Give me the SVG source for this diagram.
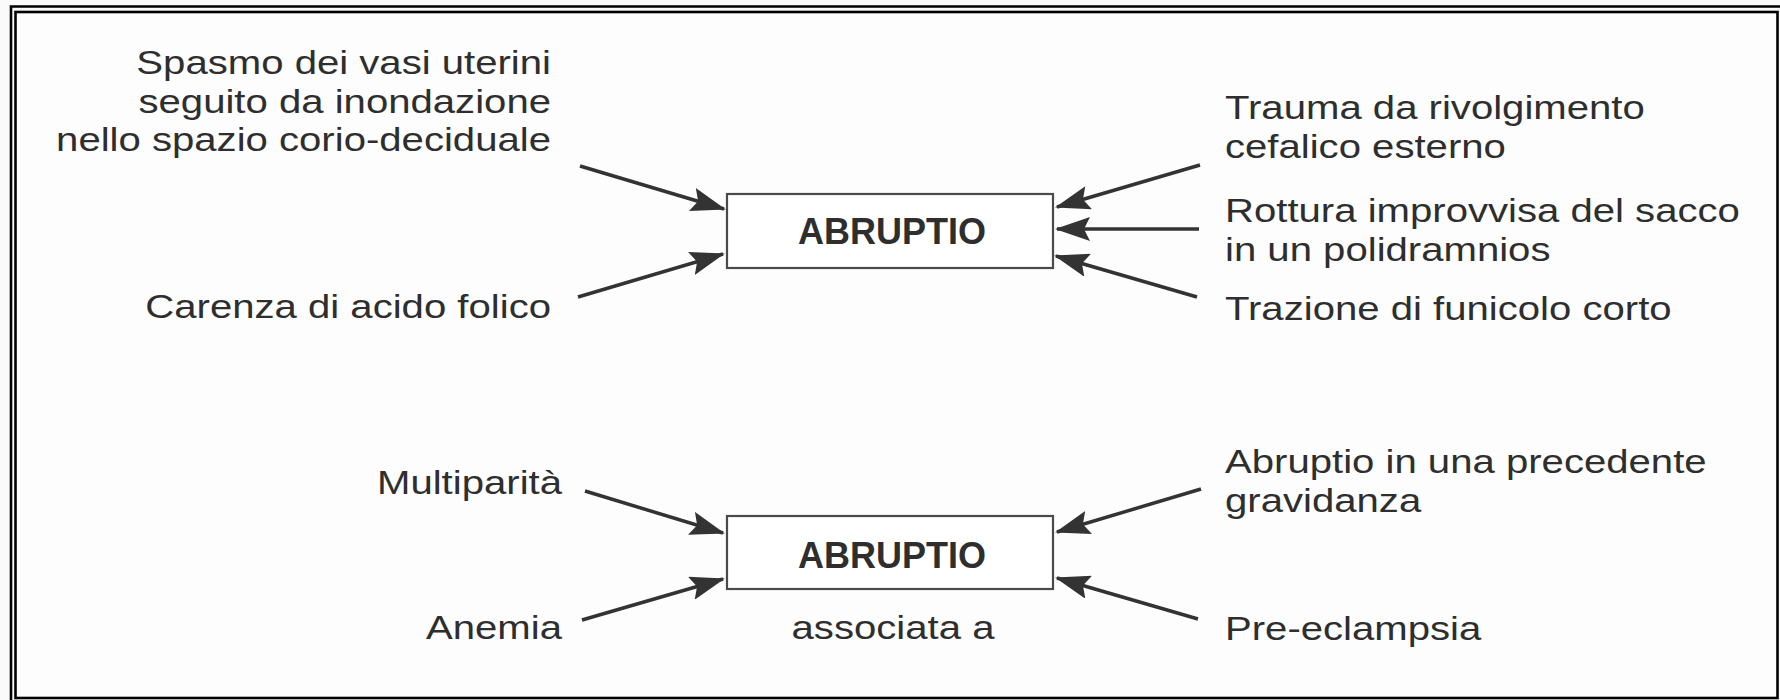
<svg xmlns="http://www.w3.org/2000/svg" width="1780" height="700" viewBox="0 0 1780 700">
<defs>
<style>
.t{font-family:"Liberation Sans",Arial,sans-serif;font-size:34px;fill:#2e2e2e}
.b{font-family:"Liberation Sans",Arial,sans-serif;font-size:36px;font-weight:bold;fill:#2e2e2e;text-anchor:middle}
.box{fill:#ffffff;stroke:#4a4a4a;stroke-width:2.2}
.arr{stroke:#333;stroke-width:3.5;fill:none;marker-end:url(#ah)}
.frame{fill:none;stroke:#000;stroke-width:2.6}
</style>
<marker id="ah" markerUnits="userSpaceOnUse" markerWidth="36" markerHeight="24" refX="33" refY="12" orient="auto" viewBox="0 0 36 24">
<path d="M0,0 L35,12 L0,24 L6,12 Z" fill="#333"/>
</marker>
</defs>
<rect x="0" y="0" width="1780" height="700" fill="#fafafa"/>
<rect x="15.5" y="12" width="1762" height="686" fill="#fdfdfd"/>
<g id="frame">
<polyline class="frame" points="11,700 11,6.5 1780,6.5"/>
<rect class="frame" x="15.5" y="12" width="1762" height="686"/>
</g>
<g id="connectors">
<line class="arr" x1="580" y1="166" x2="724" y2="209"/>
<line class="arr" x1="578" y1="297" x2="723" y2="254"/>
<line class="arr" x1="1200" y1="165" x2="1057" y2="207"/>
<line class="arr" x1="1199" y1="229" x2="1057" y2="229"/>
<line class="arr" x1="1197" y1="297" x2="1056" y2="256"/>
<line class="arr" x1="585" y1="491" x2="723" y2="533"/>
<line class="arr" x1="582" y1="620" x2="723" y2="579"/>
<line class="arr" x1="1201" y1="489" x2="1057" y2="532"/>
<line class="arr" x1="1198" y1="619" x2="1057" y2="578"/>
</g>
<g id="box-top">
<rect class="box" x="727" y="194" width="326" height="74"/>
<text class="b" x="892" y="244">ABRUPTIO</text>
</g>
<g id="box-bottom">
<rect class="box" x="727" y="516" width="326" height="73"/>
<text class="b" x="892" y="568">ABRUPTIO</text>
<text class="t" transform="translate(893,639) scale(1.18,1)" text-anchor="middle">associata a</text>
</g>
<g id="spasmo">
<text class="t" transform="translate(551,74) scale(1.18,1)" text-anchor="end">Spasmo dei vasi uterini</text>
<text class="t" transform="translate(551,113) scale(1.18,1)" text-anchor="end">seguito da inondazione</text>
<text class="t" transform="translate(551,151) scale(1.18,1)" text-anchor="end">nello spazio corio-deciduale</text>
</g>
<g id="carenza">
<text class="t" transform="translate(551,318) scale(1.18,1)" text-anchor="end">Carenza di acido folico</text>
</g>
<g id="trauma">
<text class="t" transform="translate(1225,119) scale(1.18,1)">Trauma da rivolgimento</text>
<text class="t" transform="translate(1225,158) scale(1.18,1)">cefalico esterno</text>
</g>
<g id="rottura">
<text class="t" transform="translate(1225,222) scale(1.18,1)">Rottura improvvisa del sacco</text>
<text class="t" transform="translate(1225,261) scale(1.18,1)">in un polidramnios</text>
</g>
<g id="trazione">
<text class="t" transform="translate(1225,320) scale(1.18,1)">Trazione di funicolo corto</text>
</g>
<g id="multiparita">
<text class="t" transform="translate(562,494) scale(1.18,1)" text-anchor="end">Multiparità</text>
</g>
<g id="anemia">
<text class="t" transform="translate(562,639) scale(1.18,1)" text-anchor="end">Anemia</text>
</g>
<g id="abruptio-prec">
<text class="t" transform="translate(1225,473) scale(1.18,1)">Abruptio in una precedente</text>
<text class="t" transform="translate(1225,512) scale(1.18,1)">gravidanza</text>
</g>
<g id="preeclampsia">
<text class="t" transform="translate(1225,640) scale(1.18,1)">Pre-eclampsia</text>
</g>
</svg>
